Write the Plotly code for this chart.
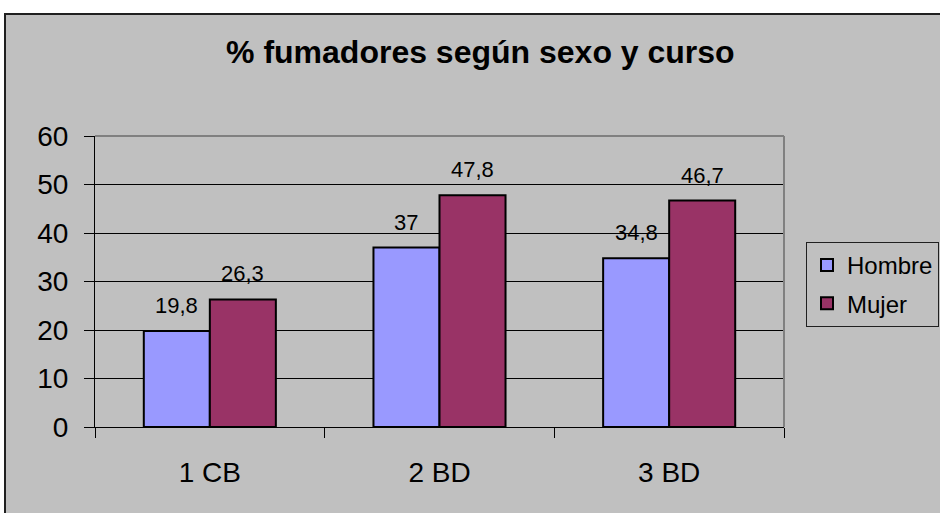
import plotly.graph_objects as go

cursos = ["1 CB", "2 BD", "3 BD"]
hombre = [19.8, 37, 34.8]
mujer = [26.3, 47.8, 46.7]
etiquetas_h = ["19,8", "37", "34,8"]
etiquetas_m = ["26,3", "47,8", "46,7"]

W, H = 940, 513
L, R, T, B = 95, 156, 136, 86
BARGAP = 0.425
FONT = "Liberation Sans, Arial, sans-serif"

plot_w = W - L - R
bar_px = plot_w / len(cursos) * (1 - BARGAP) / 2

fig = go.Figure()
fig.add_bar(x=cursos, y=hombre, name="Hombre", legendgroup="h",
            marker=dict(color="#9999FF", line=dict(color="black", width=2)))
fig.add_bar(x=cursos, y=mujer, name="Mujer", legendgroup="m",
            marker=dict(color="#993366", line=dict(color="black", width=2)))

# etiquetas de datos encima de cada barra
for vals, labs, side in [(hombre, etiquetas_h, -1), (mujer, etiquetas_m, 1)]:
    for c, v, t in zip(cursos, vals, labs):
        fig.add_annotation(x=c, y=v, text=t, showarrow=False,
                           xshift=side * bar_px / 2, yshift=11, yanchor="bottom",
                           font=dict(size=22, color="black", family=FONT))

# fondo gris del gráfico con borde
x0 = -L / plot_w + 5 / plot_w
y1 = (H - B - 14) / (H - T - B)
fig.add_shape(type="rect", xref="paper", yref="paper", x0=x0, x1=1.5, y0=-0.6, y1=y1,
              fillcolor="#C0C0C0", line=dict(color="#202020", width=2), layer="below")
# borde gris del área de trazado (arriba y derecha)
fig.add_shape(type="line", xref="paper", yref="paper", x0=0, x1=1, y0=1, y1=1,
              line=dict(color="#808080", width=2))
fig.add_shape(type="line", xref="paper", yref="paper", x0=1, x1=1, y0=0, y1=1,
              line=dict(color="#808080", width=2))

fig.update_layout(
    width=W, height=H,
    margin=dict(l=L, r=R, t=T, b=B, pad=0),
    paper_bgcolor="white", plot_bgcolor="#C0C0C0",
    barmode="group", bargap=BARGAP, bargroupgap=0,
    font=dict(family=FONT, color="black"),
    title=dict(text="<b>% fumadores según sexo y curso</b>", x=0.511, xanchor="center",
               y=1 - 52 / H, yanchor="middle", font=dict(size=32, color="black", family=FONT)),
    legend=dict(xref="container", yref="container", x=806 / W, xanchor="left",
                y=1 - 242 / H, yanchor="top",
                bgcolor="#C0C0C0", bordercolor="#202020", borderwidth=1,
                font=dict(size=24, color="black", family=FONT), tracegroupgap=4,
                itemwidth=30),
    showlegend=True,
)
fig.update_xaxes(showline=True, linecolor="black", linewidth=1, ticks="outside",
                 tickson="boundaries", ticklen=10, tickcolor="black", showgrid=False,
                 tickfont=dict(size=28, family=FONT, color="black"), ticklabelstandoff=20)
fig.update_yaxes(range=[0, 60], dtick=10, showline=True, linecolor="black", linewidth=1,
                 ticks="outside", ticklen=10, tickcolor="black", gridcolor="black", gridwidth=1,
                 zeroline=False, tickfont=dict(size=28, family=FONT, color="black"),
                 ticklabelstandoff=10)

fig.write_html("out.html", config={"displayModeBar": False},
               post_script="document.body.style.margin='0';")
